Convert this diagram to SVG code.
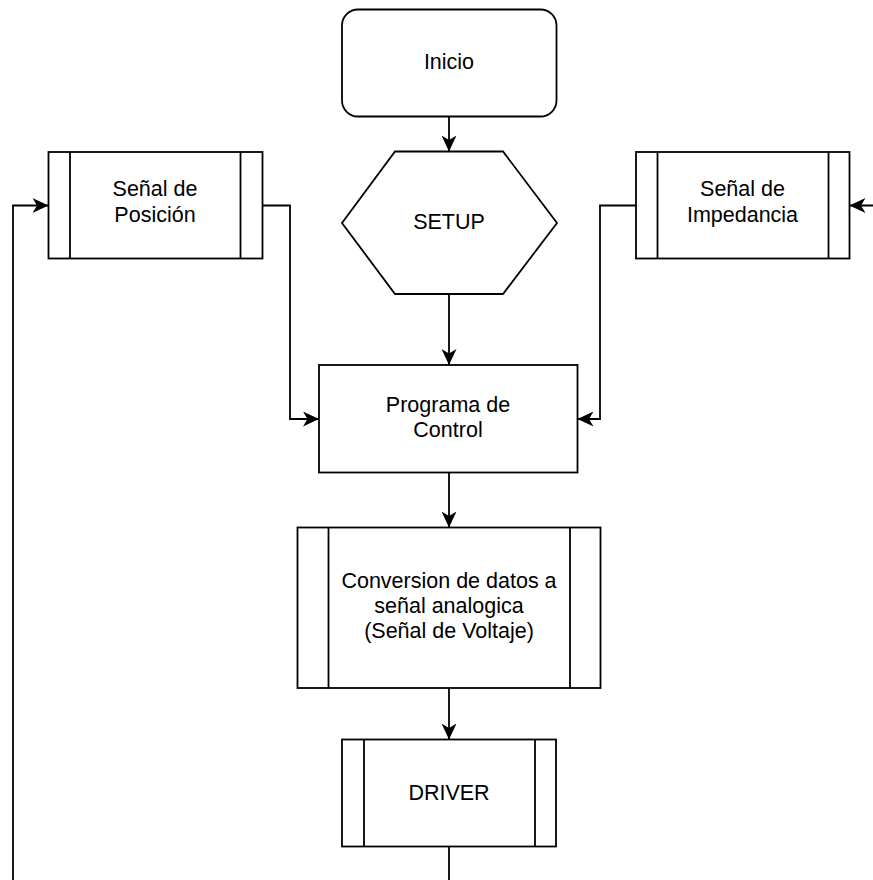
<svg xmlns="http://www.w3.org/2000/svg" width="873" height="880" viewBox="0 0 873 880">
  <style>
    .shape { fill: #ffffff; stroke: #000000; stroke-width: 1.8; }
    .bar { fill: none; stroke: #000000; stroke-width: 1.8; }
    .edge { fill: none; stroke: #000000; stroke-width: 1.8; marker-end: url(#arrow); }
    .line { fill: none; stroke: #000000; stroke-width: 1.8; }
    .label { font-family: "Liberation Sans", Arial, Helvetica, sans-serif; font-size: 21.5px; fill: #000000; text-anchor: middle; }
  </style>
  <defs>
    <marker id="arrow" viewBox="0 0 16 15" markerUnits="userSpaceOnUse" markerWidth="16" markerHeight="15" refX="16" refY="7.5" orient="auto">
      <path d="M0,0 L16,7.5 L0,15 L4.5,7.5 Z" fill="#000000"/>
    </marker>
  </defs>

  <rect width="873" height="880" fill="#ffffff"/>

  <!-- connectors -->
  <g id="connectors">
    <path class="edge" d="M449,116.5 V151.5"/>
    <path class="edge" d="M449,294 V365"/>
    <path class="edge" d="M262.5,205.5 H290 V419 H319"/>
    <path class="edge" d="M636,205.5 H600 V419 H577.5"/>
    <path class="edge" d="M449,472.5 V527.5"/>
    <path class="edge" d="M449,688 V739.5"/>
    <path class="edge" d="M449,846.5 V900 H13 V205.5 H48.5"/>
    <path class="edge" d="M890,205.5 H849.5"/>
  </g>

  <!-- start terminal -->
  <g id="inicio">
    <rect class="shape" x="342" y="9.5" width="214.5" height="107" rx="16" ry="16"/>
    <text class="label" x="449" y="69">Inicio</text>
  </g>

  <!-- preparation hexagon -->
  <g id="setup">
    <polygon class="shape" points="342,223 395,151.5 503,151.5 557,223 503,294 395,294"/>
    <text class="label" x="449" y="229">SETUP</text>
  </g>

  <!-- position signal subprocess -->
  <g id="senal-posicion">
    <rect class="shape" x="48.5" y="152" width="214" height="106.5"/>
    <line class="bar" x1="70" y1="152" x2="70" y2="258.5"/>
    <line class="bar" x1="240.5" y1="152" x2="240.5" y2="258.5"/>
    <text class="label" x="155" y="196">Señal de</text>
    <text class="label" x="155" y="221.5">Posición</text>
  </g>

  <!-- impedance signal subprocess -->
  <g id="senal-impedancia">
    <rect class="shape" x="636" y="152" width="213.5" height="106.5"/>
    <line class="bar" x1="657.5" y1="152" x2="657.5" y2="258.5"/>
    <line class="bar" x1="828.5" y1="152" x2="828.5" y2="258.5"/>
    <text class="label" x="742.5" y="196">Señal de</text>
    <text class="label" x="742.5" y="221.5">Impedancia</text>
  </g>

  <!-- control program -->
  <g id="programa-control">
    <rect class="shape" x="319" y="365" width="258.5" height="107.5"/>
    <text class="label" x="448" y="411.5">Programa de</text>
    <text class="label" x="448" y="436.5">Control</text>
  </g>

  <!-- data conversion subprocess -->
  <g id="conversion">
    <rect class="shape" x="297.5" y="527.5" width="303" height="160.5"/>
    <line class="bar" x1="328.5" y1="527.5" x2="328.5" y2="688"/>
    <line class="bar" x1="570" y1="527.5" x2="570" y2="688"/>
    <text class="label" x="449" y="587.5">Conversion de datos a</text>
    <text class="label" x="449" y="612.5">señal analogica</text>
    <text class="label" x="449" y="637.5">(Señal de Voltaje)</text>
  </g>

  <!-- driver subprocess -->
  <g id="driver">
    <rect class="shape" x="342" y="739.5" width="214" height="107"/>
    <line class="bar" x1="364" y1="739.5" x2="364" y2="846.5"/>
    <line class="bar" x1="535" y1="739.5" x2="535" y2="846.5"/>
    <text class="label" x="449" y="800">DRIVER</text>
  </g>
</svg>
